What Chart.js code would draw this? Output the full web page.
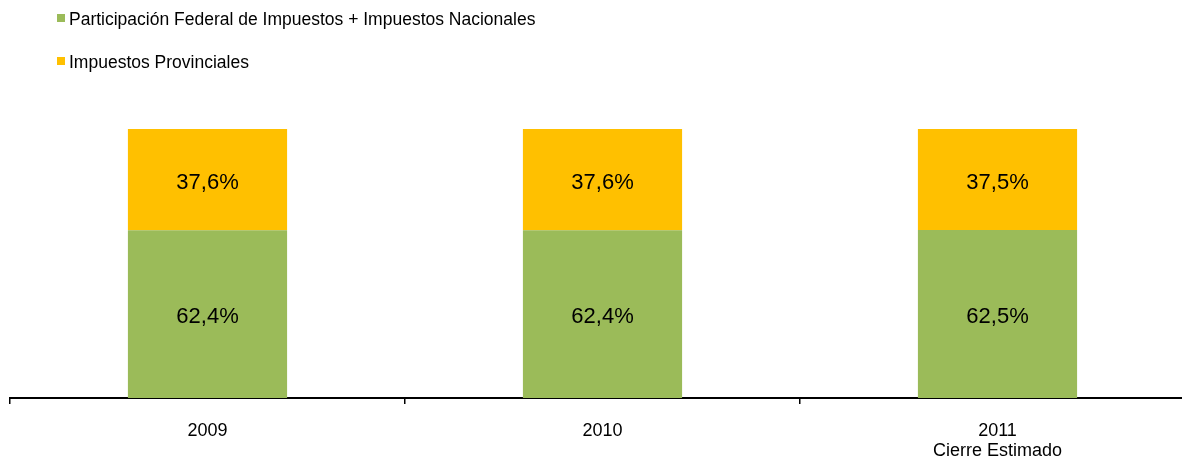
<!DOCTYPE html>
<html>
<head>
<meta charset="utf-8">
<script src="https://cdn.jsdelivr.net/npm/chart.js@4.4.1/dist/chart.umd.min.js"></script>
<style>
    html, body { margin: 0; padding: 0; background: #fff; overflow: hidden; }
    #wrap { width: 1200px; height: 462px; }
</style>
</head>
<body>
<div id="wrap"><canvas id="chart" width="1200" height="462"></canvas></div>
<script>
const categories = ['2009', '2010', ['2011', 'Cierre Estimado']];
const federalLabel = 'Participación Federal de Impuestos + Impuestos Nacionales';
const provincialLabel = 'Impuestos Provinciales';
const federalValues = [62.4, 62.4, 62.5];
const provincialValues = [37.6, 37.6, 37.5];

const FONT = '"Liberation Sans", Arial, sans-serif';

function formatPct(v) {
    return v.toFixed(1).replace('.', ',') + '%';
}

// legend drawn in the top-left corner, one item per line
const stackedLegend = {
    id: 'stackedLegend',
    afterDraw(chart) {
        const ctx = chart.ctx;
        ctx.save();
        ctx.font = `17.5px ${FONT}`;
        ctx.textBaseline = 'middle';
        ctx.textAlign = 'left';
        chart.data.datasets.forEach((ds, i) => {
            const y = 18 + i * 43;
            ctx.fillStyle = ds.backgroundColor;
            ctx.fillRect(57, y - 4, 8, 8);
            ctx.fillStyle = '#000';
            ctx.fillText(ds.label, 69, y + 2);
        });
        ctx.restore();
    }
};

// percentage labels in the middle of each segment
const segmentLabels = {
    id: 'segmentLabels',
    afterDatasetsDraw(chart) {
        const ctx = chart.ctx;
        ctx.save();
        ctx.font = `22px ${FONT}`;
        ctx.fillStyle = '#000';
        ctx.textAlign = 'center';
        ctx.textBaseline = 'middle';
        chart.data.datasets.forEach((ds, i) => {
            chart.getDatasetMeta(i).data.forEach((bar, j) => {
                const mid = (bar.y + bar.base) / 2;
                ctx.fillText(formatPct(ds.data[j]), bar.x, mid + 3);
            });
        });
        ctx.restore();
    }
};

new Chart(document.getElementById('chart'), {
    type: 'bar',
    data: {
        labels: categories,
        datasets: [
            {
                label: federalLabel,
                data: federalValues,
                backgroundColor: '#9BBB59',
                categoryPercentage: 1,
                barPercentage: 0.403
            },
            {
                label: provincialLabel,
                data: provincialValues,
                backgroundColor: '#FFC000',
                categoryPercentage: 1,
                barPercentage: 0.403
            }
        ]
    },
    options: {
        responsive: false,
        animation: false,
        layout: { padding: { top: 129, left: 10, right: 5, bottom: 0 } },
        plugins: {
            legend: { display: false },
            tooltip: { enabled: false }
        },
        scales: {
            x: {
                stacked: true,
                afterFit: (scale) => { scale.height = 64; },
                border: { display: true, color: '#000', width: 2 },
                grid: {
                    offset: true,
                    drawOnChartArea: false,
                    drawTicks: true,
                    tickLength: 6,
                    color: '#000',
                    lineWidth: 1.5
                },
                ticks: {
                    color: '#000',
                    padding: 17,
                    maxRotation: 0,
                    font: { family: FONT, size: 18, lineHeight: 1.11 }
                }
            },
            y: {
                stacked: true,
                display: false,
                min: 0,
                max: 100
            }
        }
    },
    plugins: [stackedLegend, segmentLabels]
});
</script>
</body>
</html>
